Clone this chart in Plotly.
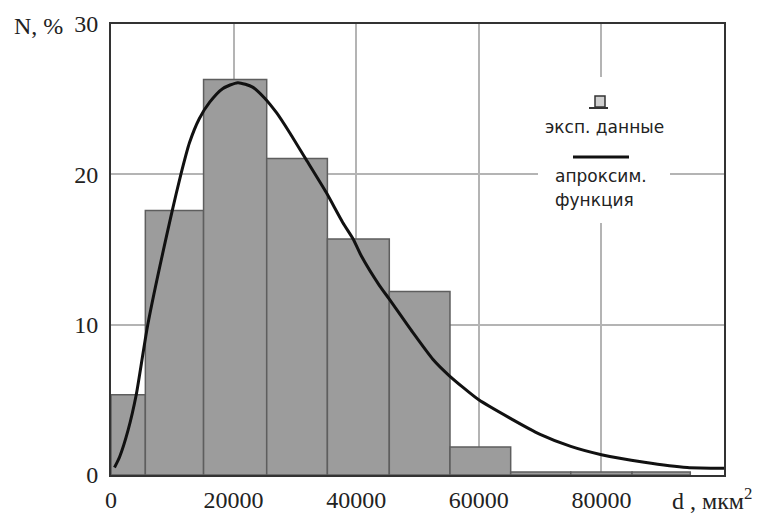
import plotly.graph_objects as go

# ---- data ----
bin_edges = [0, 5600, 15100, 25400, 35300, 45400, 55300, 65200, 75000, 85000, 94500]
bar_heights = [5.33, 17.6, 26.3, 21.05, 15.7, 12.2, 1.87, 0.2, 0.2, 0.2]

curve_x = [570, 1400, 2800, 4100, 6000, 10000, 11400, 12800, 14400, 16100, 18200,
           20700, 23100, 25000, 27000, 29100, 31800, 35100, 37800, 39500, 40800,
           43800, 45400, 49200, 52500, 55200, 60000, 65000, 70000, 75000, 80000,
           87000, 94000, 100000]
curve_y = [0.5, 1.2, 3.0, 5.3, 10.0, 17.6, 20.0, 22.1, 23.7, 24.8, 25.7,
           26.1, 25.8, 25.1, 24.1, 22.8, 21.0, 18.8, 16.8, 15.7, 14.6,
           12.6, 11.7, 9.5, 7.7, 6.6, 5.0, 3.8, 2.7, 1.9, 1.35,
           0.85, 0.5, 0.45]

x_ticks = [0, 20000, 40000, 60000, 80000]
x_ticktext = ["0", "20000", "40000", "60000", "80000"]
y_ticks = [0, 10, 20, 30]

legend_bar_text = "эксп. данные"
legend_line_text1 = "апроксим."
legend_line_text2 = "функция"
y_title = "N, %"
x_title = "d , мкм<sup>2</sup>"

centers = [(a + b) / 2 for a, b in zip(bin_edges[:-1], bin_edges[1:])]
widths = [b - a for a, b in zip(bin_edges[:-1], bin_edges[1:])]

SERIF = "Liberation Serif"
SANS = "DejaVu Sans"

fig = go.Figure()
fig.add_trace(go.Bar(
    x=centers, y=bar_heights, width=widths,
    marker=dict(color="#9c9c9c", line=dict(color="#5e5e5e", width=1.5)),
    showlegend=False, hoverinfo="skip"))
fig.add_trace(go.Scatter(
    x=curve_x, y=curve_y, mode="lines",
    line=dict(color="#111111", width=3, shape="spline", smoothing=0.6),
    showlegend=False, hoverinfo="skip"))

# page body has an 8px margin, so the figure is sized to fit inside the window
OFF = 8
W, H = 771 - OFF, 515 - OFF
L, R, T, B = 111 - OFF, 47, 24 - OFF, 40
pw, ph = W - L - R, H - T - B
X0, YB = L + OFF, OFF + H - B   # screen position of plot left / bottom

def px(xp):
    return (xp - X0) / pw

def py(yp):
    return (YB - yp) / ph

shapes = [
    # white legend background
    dict(type="rect", xref="paper", yref="paper", x0=px(538), x1=px(670),
         y0=py(223), y1=py(77), fillcolor="white", line=dict(width=0), layer="above"),
    # bar icon
    dict(type="rect", xref="paper", yref="paper", x0=px(595), x1=px(605),
         y0=py(107), y1=py(96), fillcolor="#d0d0d0",
         line=dict(color="#333333", width=1.5), layer="above"),
    dict(type="line", xref="paper", yref="paper", x0=px(589), x1=px(608),
         y0=py(108), y1=py(108), line=dict(color="#333333", width=2), layer="above"),
    # line icon
    dict(type="line", xref="paper", yref="paper", x0=px(573), x1=px(629),
         y0=py(157), y1=py(157), line=dict(color="#111111", width=3), layer="above"),
]

annotations = [
    dict(text=legend_bar_text, xref="paper", yref="paper", x=px(604), y=py(127),
         xanchor="center", yanchor="middle", showarrow=False,
         font=dict(family=SANS, size=17, color="#222222")),
    dict(text=legend_line_text1, xref="paper", yref="paper", x=px(553), y=py(176),
         xanchor="left", yanchor="middle", showarrow=False,
         font=dict(family=SANS, size=17, color="#222222")),
    dict(text=legend_line_text2, xref="paper", yref="paper", x=px(553), y=py(200),
         xanchor="left", yanchor="middle", showarrow=False,
         font=dict(family=SANS, size=17, color="#222222")),
    dict(text=y_title, xref="paper", yref="paper", x=px(12), y=py(26),
         xanchor="left", yanchor="middle", showarrow=False,
         font=dict(family=SERIF, size=24, color="#222222")),
    dict(text=x_title, xref="paper", yref="paper", x=px(670), y=py(499),
         xanchor="left", yanchor="middle", showarrow=False,
         font=dict(family=SERIF, size=24, color="#222222")),
]

axis_common = dict(
    showgrid=True, gridcolor="#b4b4b4", gridwidth=1.5,
    showline=True, linecolor="#333333", linewidth=2, mirror=True,
    zeroline=False, ticks="outside", tickcolor="rgba(0,0,0,0)",
    tickfont=dict(family=SERIF, size=24, color="#222222"),
    automargin=False,
)

fig.update_layout(
    width=W, height=H,
    margin=dict(l=L, r=R, t=T, b=B, autoexpand=False),
    paper_bgcolor="white", plot_bgcolor="white",
    xaxis=dict(range=[0, 100000], tickmode="array", tickvals=x_ticks,
               ticktext=x_ticktext, ticklen=2, **axis_common),
    yaxis=dict(range=[0, 30], tickmode="array", tickvals=y_ticks,
               ticklen=6, **axis_common),
    shapes=shapes, annotations=annotations,
    barmode="overlay",
)

fig.write_html("out.html")
